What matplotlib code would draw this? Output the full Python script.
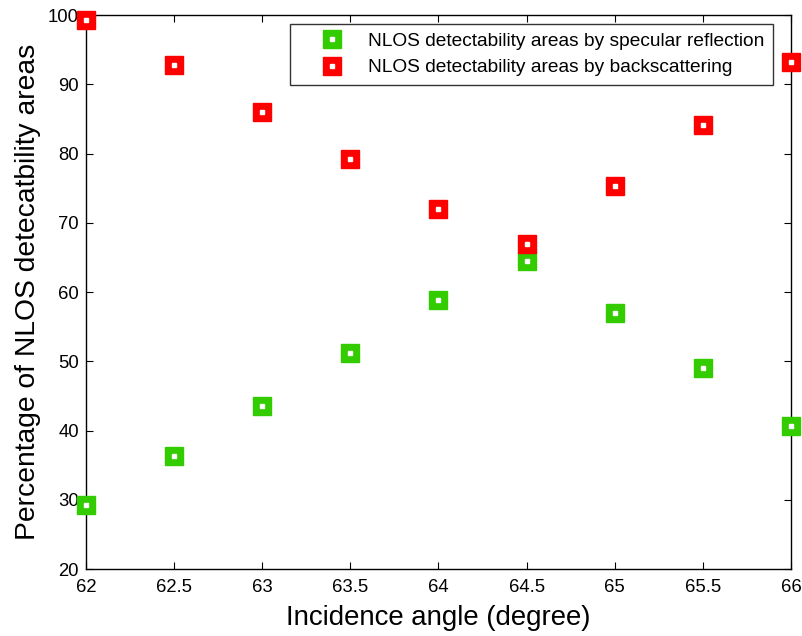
import matplotlib
matplotlib.use("Agg")
import matplotlib.pyplot as plt
from matplotlib.lines import Line2D

plt.rcParams['font.family'] = ['Liberation Sans', 'DejaVu Sans']

angles = [62, 62.5, 63, 63.5, 64, 64.5, 65, 65.5, 66]
specular = [29.2, 36.3, 43.5, 51.2, 58.8, 64.5, 57.0, 49.0, 40.6]
backscatter = [99.3, 92.8, 86.0, 79.2, 72.0, 66.9, 75.3, 84.1, 93.2]
x_ticks = [62, 62.5, 63, 63.5, 64, 64.5, 65, 65.5, 66]
x_tick_labels = ['62', '62.5', '63', '63.5', '64', '64.5', '65', '65.5', '66']
y_ticks = [20, 30, 40, 50, 60, 70, 80, 90, 100]

green = '#33cc00'
red = '#ff0000'

fig = plt.figure(figsize=(8.03, 6.36), dpi=100)
ax = fig.add_axes([0.107, 0.1053, 0.878, 0.871])

for vals, col in ((specular, green), (backscatter, red)):
    ax.plot(angles, vals, linestyle='none', marker='s', markersize=13.5,
            markerfacecolor=col, markeredgecolor=col, clip_on=False, zorder=3)
    ax.plot(angles, vals, linestyle='none', marker='s', markersize=2.8,
            markerfacecolor='white', markeredgecolor='white', clip_on=False, zorder=4)

ax.set_xlim(62, 66)
ax.set_ylim(20, 100)
ax.set_xticks(x_ticks)
ax.set_xticklabels(x_tick_labels)
ax.set_yticks(y_ticks)
ax.tick_params(direction='in', length=5, width=0.8, labelsize=13.3,
               top=True, right=True)
ax.tick_params(axis='x', pad=7)
ax.tick_params(axis='y', pad=5)
for s in ax.spines.values():
    s.set_linewidth(1.0)

ax.set_xlabel('Incidence angle (degree)', fontsize=19.9, labelpad=7)
ax.set_ylabel('Percentage of NLOS detecatbility areas', fontsize=20.3, labelpad=5)


def handle(col):
    return (Line2D([], [], linestyle='none', marker='s', markersize=13.5,
                   markerfacecolor=col, markeredgecolor=col),
            Line2D([], [], linestyle='none', marker='s', markersize=2.8,
                   markerfacecolor='white', markeredgecolor='white'))


leg = ax.legend([handle(green), handle(red)],
                ['NLOS detectability areas by specular reflection',
                 'NLOS detectability areas by backscattering'],
                loc='upper right', bbox_to_anchor=(0.9745, 0.9838),
                fontsize=13.8, frameon=True, fancybox=False, edgecolor='black',
                handlelength=3.49, handletextpad=0.13, borderpad=0.44,
                labelspacing=0.47, borderaxespad=0)
leg.get_frame().set_linewidth(1.0)

fig.savefig('out.png', dpi=100)
